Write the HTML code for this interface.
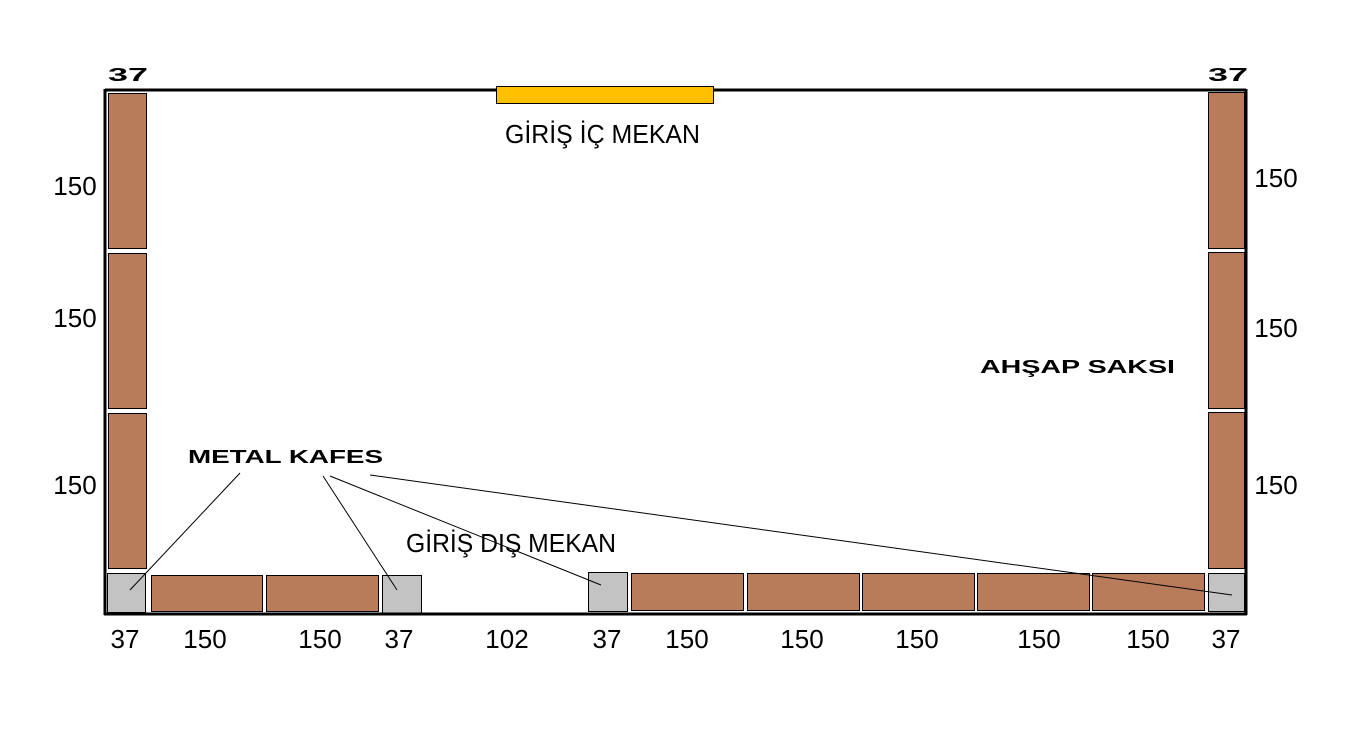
<!DOCTYPE html>
<html><head><meta charset="utf-8"><style>
html,body{margin:0;padding:0;background:#fff;}
svg{display:block}
text{font-family:"Liberation Sans","DejaVu Sans",sans-serif;fill:#000}
.n{font-size:26px;text-anchor:middle}
.w{font-size:18px;font-weight:bold}
</style></head><body>
<svg width="1357" height="738" viewBox="0 0 1357 738" xmlns="http://www.w3.org/2000/svg">
<rect width="1357" height="738" fill="#fff"/>
<g fill="#b87c5a" stroke="#000" stroke-width="1">
<rect x="108.5" y="93.5" width="38" height="155"/>
<rect x="108.5" y="253.5" width="38" height="155"/>
<rect x="108.5" y="413.5" width="38" height="155"/>
<rect x="1208.5" y="92.5" width="36" height="156"/>
<rect x="1208.5" y="252.5" width="36" height="156"/>
<rect x="1208.5" y="412.5" width="36" height="156"/>
<rect x="151.5" y="575.5" width="111" height="36"/>
<rect x="266.5" y="575.5" width="112" height="36"/>
<rect x="631.5" y="573.5" width="112" height="37"/>
<rect x="747.5" y="573.5" width="112" height="37"/>
<rect x="862.5" y="573.5" width="112" height="37"/>
<rect x="977.5" y="573.5" width="112" height="37"/>
<rect x="1092.5" y="573.5" width="112" height="37"/>
</g>
<g fill="#c3c3c3" stroke="#000" stroke-width="1">
<rect x="107.5" y="573.5" width="38" height="39"/>
<rect x="382.5" y="575.5" width="39" height="38"/>
<rect x="588.5" y="572.5" width="39" height="39"/>
<rect x="1208.5" y="573.5" width="36" height="38"/>
</g>
<rect x="496.5" y="86.5" width="217" height="17" fill="#ffc000" stroke="#000" stroke-width="1"/>
<g stroke="#000" stroke-width="3" fill="none">
<line x1="105" y1="90" x2="496" y2="90"/>
<line x1="713" y1="90" x2="1246" y2="90"/>
<line x1="105" y1="89" x2="105" y2="615"/>
<line x1="1246" y1="89" x2="1246" y2="615"/>
<line x1="104" y1="614" x2="1247" y2="614"/>
</g>
<g stroke="#000" stroke-width="1">
<line x1="240" y1="473" x2="130" y2="590"/>
<line x1="323" y1="476" x2="397" y2="590"/>
<line x1="330" y1="476" x2="601" y2="585"/>
<line x1="370" y1="475" x2="1232" y2="595"/>
</g>
<text x="505" y="143" font-size="26" textLength="195" lengthAdjust="spacingAndGlyphs">GİRİŞ İÇ MEKAN</text>
<text x="406" y="552" font-size="26" textLength="210" lengthAdjust="spacingAndGlyphs">GİRİŞ DIŞ MEKAN</text>
<text class="w" x="108" y="81" textLength="40" lengthAdjust="spacingAndGlyphs">37</text>
<text class="w" x="1208" y="81" textLength="40" lengthAdjust="spacingAndGlyphs">37</text>
<text class="w" x="188" y="463" font-size="16" textLength="195" lengthAdjust="spacingAndGlyphs">METAL KAFES</text>
<text class="w" x="980" y="373" font-size="16" textLength="195" lengthAdjust="spacingAndGlyphs">AHŞAP SAKSI</text>
<text x="75" y="195" class="n">150</text>
<text x="75" y="327" class="n">150</text>
<text x="75" y="494" class="n">150</text>
<text x="1276" y="187" class="n">150</text>
<text x="1276" y="337" class="n">150</text>
<text x="1276" y="494" class="n">150</text>
<text x="125" y="648" class="n">37</text>
<text x="205" y="648" class="n">150</text>
<text x="320" y="648" class="n">150</text>
<text x="399" y="648" class="n">37</text>
<text x="507" y="648" class="n">102</text>
<text x="607" y="648" class="n">37</text>
<text x="687" y="648" class="n">150</text>
<text x="802" y="648" class="n">150</text>
<text x="917" y="648" class="n">150</text>
<text x="1039" y="648" class="n">150</text>
<text x="1148" y="648" class="n">150</text>
<text x="1226" y="648" class="n">37</text>
</svg>
</body></html>
